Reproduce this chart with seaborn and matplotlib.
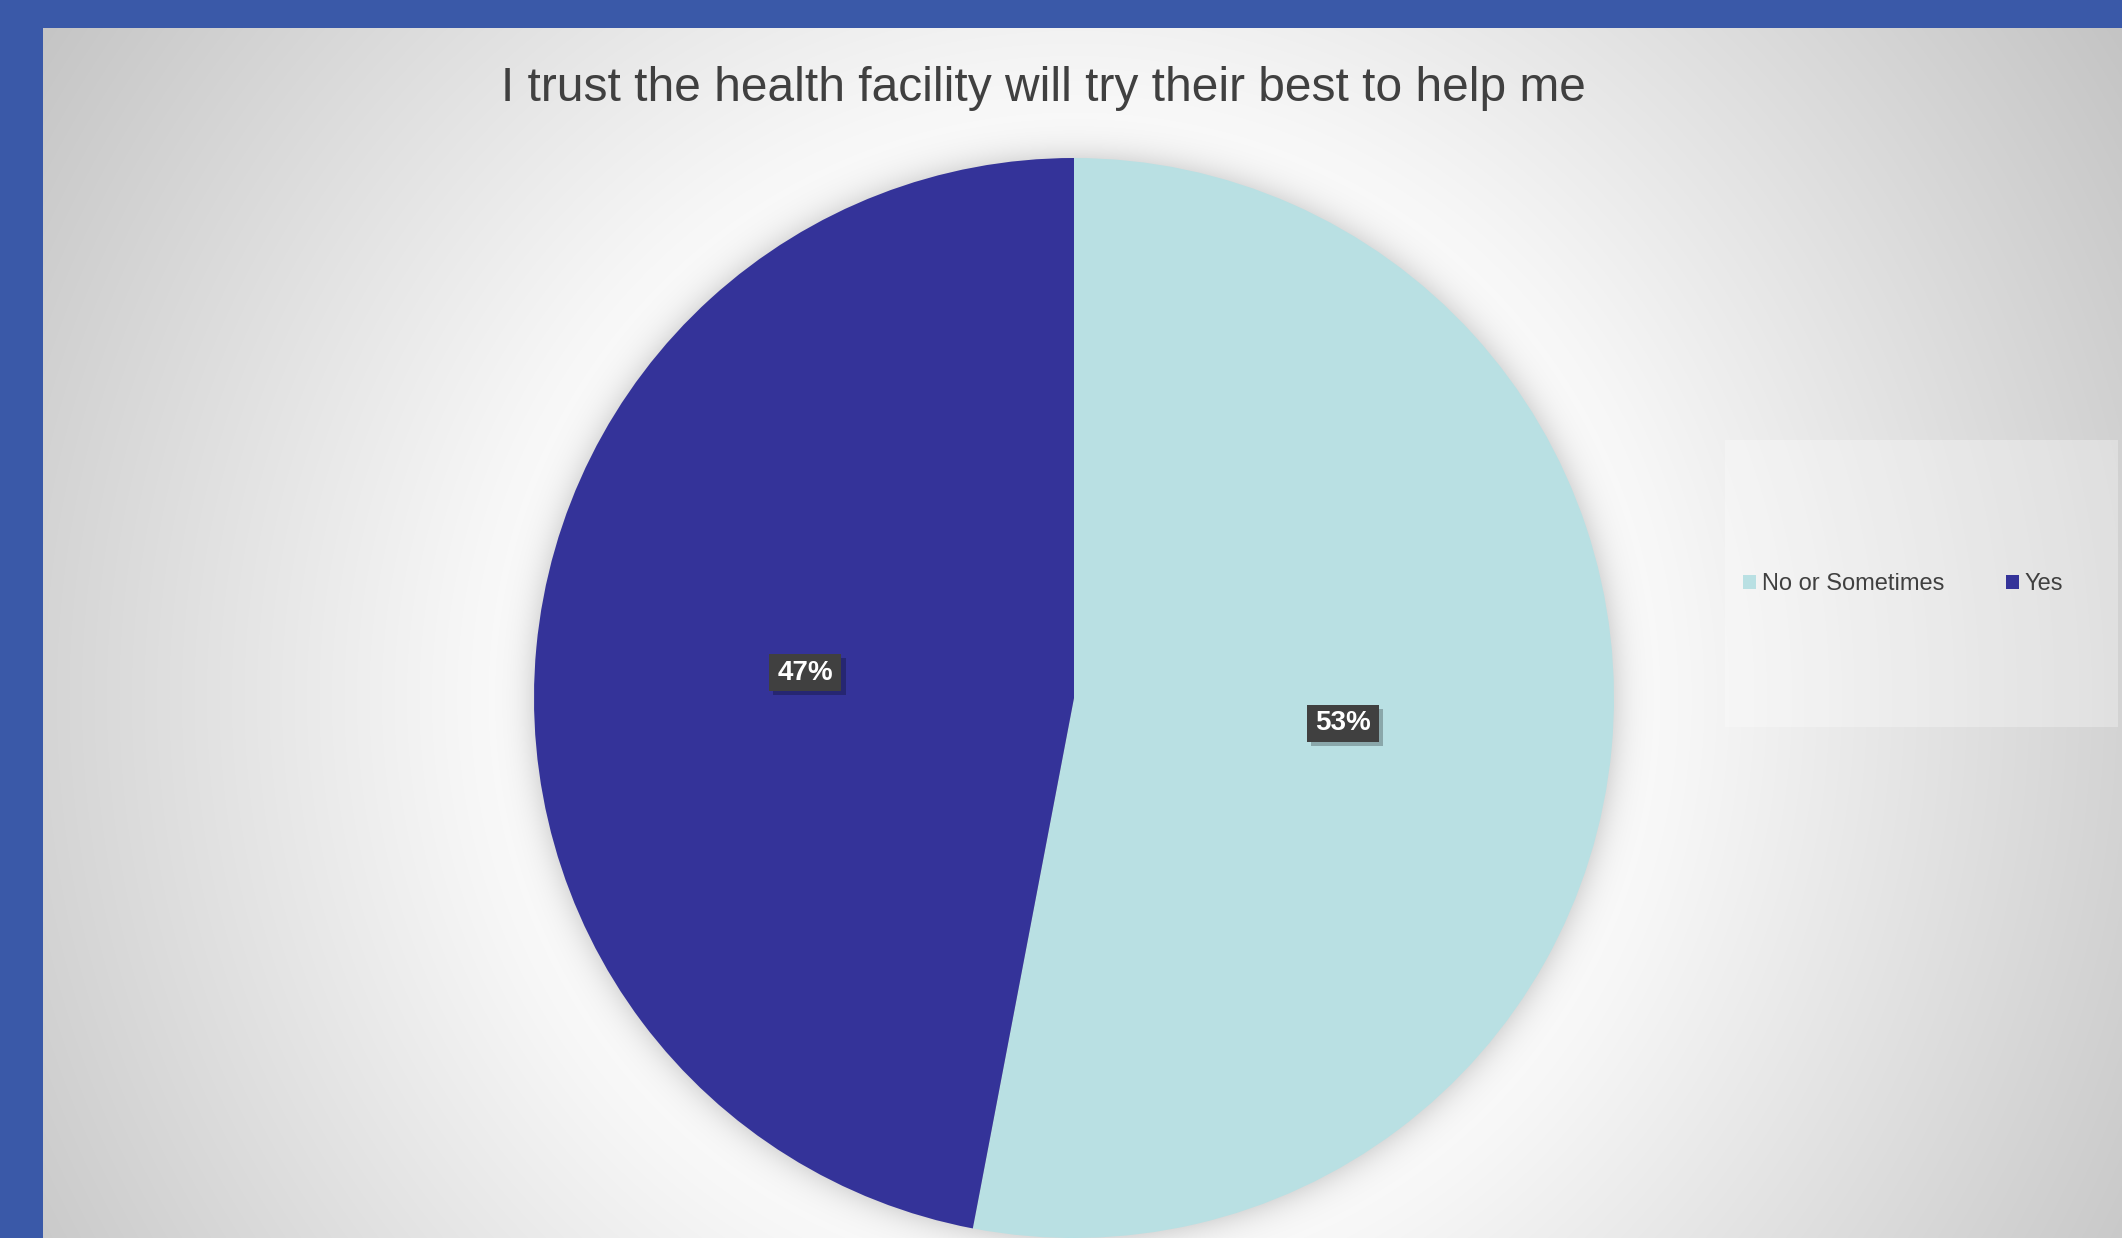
import numpy as np
import matplotlib
matplotlib.use("Agg")
import matplotlib.pyplot as plt
import matplotlib.patheffects as pe
from matplotlib.patches import Rectangle
import seaborn as sns

# Survey answers
title = "I trust the health facility will try their best to help me"
categories = ["No or Sometimes", "Yes"]
shares = [53, 47]
slice_colors = ["#B9E0E3", "#343399"]

sns.set_theme(style="white")
plt.rcParams["font.family"] = ["Liberation Sans", "DejaVu Sans"]

W, H = 2122, 1238
DPI = 100
fig = plt.figure(figsize=(W / DPI, H / DPI), dpi=DPI)

# pie geometry in pixels
cx, cy, R = 1074, 698, 540

# slide-style backdrop: blue frame, radial grey gradient, soft drop shadow around the pie
yy, xx = np.mgrid[0:H, 0:W].astype(float)
d = np.hypot(xx - cx, yy - cy)
v = 249 - 52 * np.clip((d - 580) / 650, 0, None)
v = np.clip(v, 188, 249)
shadow = 64 / (1 + np.exp((d - R + 2) / 10.0))
v = v - shadow
img = np.dstack([v, v, v]) / 255.0
frame = (xx < 43) | (yy < 28)
img[frame] = np.array([58, 89, 168]) / 255.0

ax_bg = fig.add_axes([0, 0, 1, 1], zorder=0)
ax_bg.imshow(img, extent=(0, W, H, 0), aspect="auto", interpolation="bilinear")
ax_bg.set_xlim(0, W)
ax_bg.set_ylim(H, 0)
ax_bg.axis("off")

# pie axes: square box of 2R pixels centred on (cx, cy)
ax = fig.add_axes([(cx - R) / W, (H - cy - R) / H, 2 * R / W, 2 * R / H], zorder=2)
palette = sns.color_palette(slice_colors)
wedges, _, autotexts = ax.pie(
    shares,
    colors=palette,
    startangle=90,
    counterclock=False,
    autopct=lambda p: f"{p:.0f}%",
    pctdistance=0.5,
    wedgeprops=dict(linewidth=0, edgecolor="none", antialiased=True),
    textprops=dict(color="white", fontsize=20, fontweight="bold",
                   family=["Liberation Sans Narrow", "Liberation Sans", "DejaVu Sans"]),
)
ax.set_xlim(-1, 1)
ax.set_ylim(-1, 1)
ax.axis("off")

for t in autotexts:
    t.set_ha("center")
    t.set_va("center")
    t.set_bbox(dict(boxstyle="square,pad=0.3", mutation_aspect=0.65,
                    facecolor="#404040", edgecolor="none", linewidth=0))
    t.get_bbox_patch().set_path_effects(
        [pe.SimplePatchShadow(offset=(3, -3), shadow_rgbFace="black", alpha=0.25), pe.Normal()]
    )

# title
fig.text(1043 / W, (H - 101) / H, title, ha="center", va="baseline",
         fontsize=34.5, color="#404040")

# legend panel
fig.patches.append(Rectangle((1725 / W, (H - 727) / H), 393 / W, 287 / H,
                             transform=fig.transFigure, facecolor="white",
                             alpha=0.3, edgecolor="none", zorder=1))
fig.legend(wedges, categories, loc="center left",
           bbox_to_anchor=(1743 / W, (H - 584) / H), ncol=2, frameon=False,
           fontsize=17, labelcolor="#404040", handlelength=0.55, handleheight=0.55,
           handletextpad=0.25, columnspacing=2.6, borderpad=0, borderaxespad=0)

fig.savefig("out.png", dpi=DPI)
